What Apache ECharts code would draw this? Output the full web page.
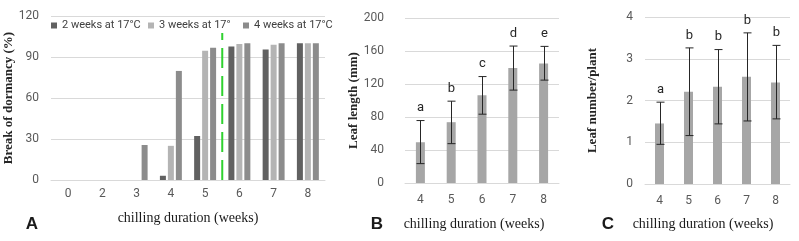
<!DOCTYPE html>
<html>
<head>
<meta charset="utf-8">
<script src="https://cdn.jsdelivr.net/npm/echarts@6/dist/echarts.min.js"></script>
<style>
html,body{margin:0;padding:0;background:#fff;}
#main{width:799px;height:241px;}
</style>
</head>
<body>
<div id="main"></div>
<script>
// panel A
var weeksA = ['0','2','3','4','5','6','7','8'];
var twoWeeks = [0,0,0,3.1,32.2,97.6,95.4,100];
var threeWeeks = [0,0,0,25,94.6,99.5,99,100];
var fourWeeks = [0,0,25.6,79.8,96.8,100,100,100];
var splitLine = [[5,0],[5,107.6]];
// panel B
var weeksBC = ['4','5','6','7','8'];
var leafLen = [49.4,73.7,106.5,139.3,145];
var leafLenLow = [23.5,47.7,83.4,112.6,124.7];
var leafLenHigh = [75.7,99.2,129,166,165.6];
var leafLenSig = ['a','b','c','d','e'];
// panel C
var leafNum = [1.45,2.21,2.33,2.57,2.43];
var leafNumLow = [0.95,1.16,1.44,1.51,1.56];
var leafNumHigh = [1.96,3.26,3.22,3.62,3.32];
var leafNumSig = ['a','b','b','b','b'];

var sans = 'Roboto';
var serif = 'Liberation Serif';
var gridCol = '#d9d9d9';
var tickCol = '#595959';

function catAxis(idx, data, margin){
	return {
		type:'category', gridIndex:idx, data:data,
		axisLine:{lineStyle:{color:gridCol}},
		axisTick:{show:false},
		axisLabel:{color:tickCol, fontFamily:sans, fontSize:12, margin:margin}
	};
}
function valAxis(idx, max, step, name, gap, margin){
	return {
		type:'value', gridIndex:idx, min:0, max:max, interval:step,
		name:name, nameLocation:'middle', nameGap:gap,
		nameTextStyle:{fontFamily:serif, fontWeight:'bold', fontSize:13, color:'#262626'},
		axisLine:{show:false}, axisTick:{show:false},
		splitLine:{lineStyle:{color:gridCol}},
		axisLabel:{color:tickCol, fontFamily:sans, fontSize:12, margin:margin}
	};
}
function errorSeries(idx, low, high, sig){
	return {
		type:'custom', xAxisIndex:idx, yAxisIndex:idx, z:5,
		data: low.map(function(v,i){ return [i, v, high[i]]; }),
		renderItem: function(params, api){
			var lo = api.coord([api.value(0), api.value(1)]);
			var hi = api.coord([api.value(0), api.value(2)]);
			var x = Math.round(lo[0]) + 0.5;
			var st = {stroke:'#262626', lineWidth:1};
			return {type:'group', children:[
				{type:'line', shape:{x1:x, y1:lo[1], x2:x, y2:hi[1]}, style:st},
				{type:'line', shape:{x1:x-4, y1:lo[1], x2:x+4, y2:lo[1]}, style:st},
				{type:'line', shape:{x1:x-4, y1:hi[1], x2:x+4, y2:hi[1]}, style:st},
				{type:'text', x:x, y:hi[1]-6, style:{text:sig[params.dataIndex], align:'center', verticalAlign:'bottom', fontFamily:sans, fontSize:13, fill:'#262626'}}
			]};
		}
	};
}
function legendAt(name, left){
	return {
		data:[name], left:left, top:20, padding:0, icon:'rect',
		itemWidth:6, itemHeight:6, selectedMode:false,
		textStyle:{fontFamily:sans, fontSize:11, color:'#404040'}
	};
}
function label(text, x, y, family, size, weight){
	return {type:'text', x:x, y:y, style:{text:text, fontFamily:family, fontSize:size, fontWeight:weight, fill:'#1a1a1a', align:'center', verticalAlign:'middle'}};
}

var option = {
	animation:false,
	legend:[
		legendAt('2 weeks at 17°C', 51),
		legendAt('3 weeks at 17°', 148),
		legendAt('4 weeks at 17°C', 243)
	],
	grid:[
		{left:51, top:16, width:274, height:164},
		{left:405, top:18, width:154, height:165},
		{left:645, top:17, width:145, height:167}
	],
	xAxis:[
		catAxis(0, weeksA, 8),
		catAxis(1, weeksBC, 11),
		catAxis(2, weeksBC, 11),
		{type:'value', gridIndex:0, min:0, max:8, show:false}
	],
	yAxis:[
		valAxis(0, 120, 30, 'Break of dormancy (%)', 34, 12),
		valAxis(1, 200, 40, 'Leaf length (mm)', 43, 21),
		valAxis(2, 4, 1, 'Leaf number/plant', 46, 12)
	],
	graphic:[
		label('chilling duration (weeks)', 188, 218, serif, 14, 'normal'),
		label('chilling duration (weeks)', 474, 224, serif, 14, 'normal'),
		label('chilling duration (weeks)', 703, 224, serif, 14, 'normal'),
		label('A', 32, 224, 'Liberation Sans', 17, 'bold'),
		label('B', 377, 224, 'Liberation Sans', 17, 'bold'),
		label('C', 608, 224, 'Liberation Sans', 17, 'bold')
	],
	series:[
		{name:'2 weeks at 17°C', type:'bar', xAxisIndex:0, yAxisIndex:0, data:twoWeeks, barWidth:6, barGap:'33%', itemStyle:{color:'#616161'}},
		{name:'3 weeks at 17°', type:'bar', xAxisIndex:0, yAxisIndex:0, data:threeWeeks, barWidth:6, barGap:'33%', itemStyle:{color:'#b4b4b4'}},
		{name:'4 weeks at 17°C', type:'bar', xAxisIndex:0, yAxisIndex:0, data:fourWeeks, barWidth:6, barGap:'33%', itemStyle:{color:'#8c8c8c'}},
		{type:'line', xAxisIndex:3, yAxisIndex:0, data:splitLine, symbol:'none', z:4,
			lineStyle:{color:'#2fd12f', width:2, type:[20,8]}},
		{type:'bar', xAxisIndex:1, yAxisIndex:1, data:leafLen, barWidth:9, itemStyle:{color:'#a6a6a6'}},
		errorSeries(1, leafLenLow, leafLenHigh, leafLenSig),
		{type:'bar', xAxisIndex:2, yAxisIndex:2, data:leafNum, barWidth:9, itemStyle:{color:'#a6a6a6'}},
		errorSeries(2, leafNumLow, leafNumHigh, leafNumSig)
	]
};

var myChart = echarts.init(document.getElementById('main'));
myChart.setOption(option);
</script>
</body>
</html>
